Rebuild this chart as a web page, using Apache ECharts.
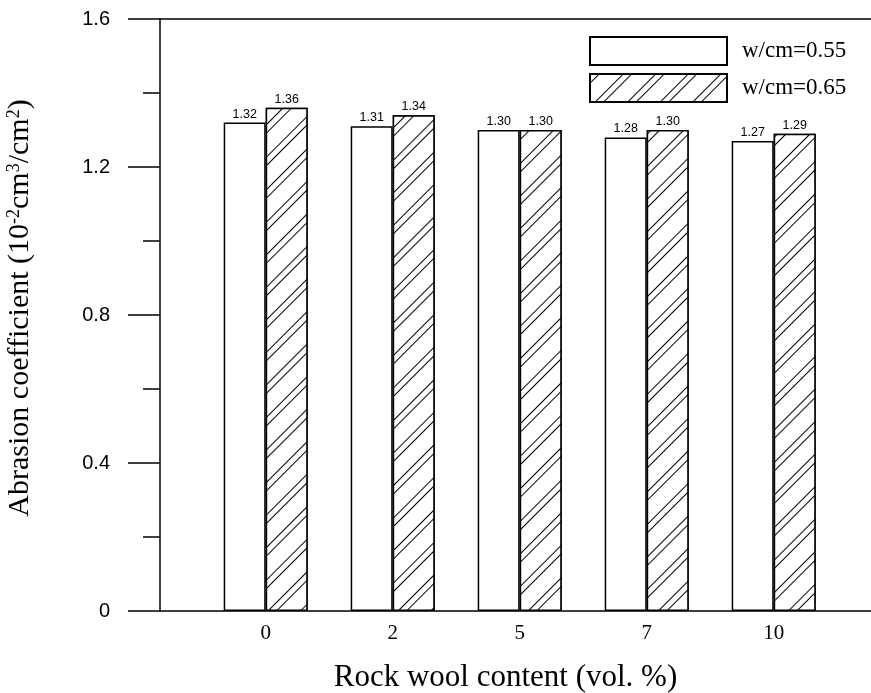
<!DOCTYPE html>
<html>
<head>
<meta charset="utf-8">
<script src="https://cdn.jsdelivr.net/npm/echarts@6/dist/echarts.min.js"></script>
<style>
  html, body { margin: 0; padding: 0; background: #fff; }
  #chart { width: 871px; height: 693px; }
</style>
</head>
<body>
<div id="chart"></div>
<script>
// Rock wool content (vol. %) groups
const categories = ['0', '2', '5', '7', '10'];
// Abrasion coefficient for the two water/cement ratios
const seriesNames = ['w/cm=0.55', 'w/cm=0.65'];
const values055 = [1.32, 1.31, 1.30, 1.28, 1.27];
const values065 = [1.36, 1.34, 1.30, 1.30, 1.29];
const yTicks = [0, 0.4, 0.8, 1.2, 1.6];

const chart = echarts.init(document.getElementById('chart'));

const serif = '"Liberation Serif", "Times New Roman", serif';
const sans = '"Liberation Sans", Arial, sans-serif';

// paired diagonal hatching for the second series
const hatch = {
  symbol: 'rect',
  symbolSize: 1,
  color: '#000',
  backgroundColor: '#fff',
  dashArrayX: [1, 0],
  dashArrayY: [1, 4.5, 1, 16],
  rotation: -Math.PI / 4
};

const labelStyle = {
  show: true,
  position: 'top',
  distance: 2,
  color: '#000',
  fontFamily: sans,
  fontSize: 12.5,
  formatter: p => p.value.toFixed(2)
};

chart.setOption({
  animation: false,
  backgroundColor: '#fff',
  grid: [
    { left: 160, right: 0, top: 19, bottom: 82, outerBoundsMode: 'none' },
    { left: 202.2, right: 33.8, top: 19, bottom: 82, outerBoundsMode: 'none' }
  ],
  legend: {
    orient: 'vertical',
    left: 584,
    top: 31,
    itemWidth: 137,
    itemHeight: 28,
    itemGap: 7,
    icon: 'rect',
    data: seriesNames,
    textStyle: { fontFamily: serif, fontSize: 23, color: '#000', padding: [0, 0, 0, 10] }
  },
  xAxis: [
    {
      gridIndex: 0, type: 'value', min: 0, max: 1, position: 'bottom',
      axisLine: { show: true, lineStyle: { color: '#000', width: 1.5 } },
      axisTick: { show: false }, axisLabel: { show: false }, splitLine: { show: false },
      name: 'Rock wool content (vol. %)',
      nameLocation: 'middle',
      nameGap: 51,
      nameTextStyle: { fontFamily: serif, fontSize: 31, color: '#000', padding: [0, 20, 0, 0] }
    },
    {
      gridIndex: 0, type: 'value', min: 0, max: 1, position: 'top',
      axisLine: { show: true, lineStyle: { color: '#000', width: 1.5 } },
      axisTick: { show: false }, axisLabel: { show: false }, splitLine: { show: false }
    },
    {
      gridIndex: 1, type: 'category', data: categories, position: 'bottom',
      axisLine: { show: false }, axisTick: { show: false },
      axisLabel: { margin: 12, fontFamily: serif, fontSize: 21, color: '#000' }
    }
  ],
  yAxis: [
    {
      gridIndex: 0, type: 'value', min: 0, max: 1.6, interval: 0.4,
      axisLine: { show: true, lineStyle: { color: '#000', width: 1.5 } },
      axisTick: { show: true, inside: false, length: 32, lineStyle: { color: '#000', width: 1.5 } },
      minorTick: { show: true, splitNumber: 2, length: 17, lineStyle: { color: '#000', width: 1.5 } },
      splitLine: { show: false },
      axisLabel: {
        margin: 50, fontFamily: sans, fontSize: 20, color: '#000',
        formatter: v => (yTicks.includes(+v.toFixed(1)) ? (v === 0 ? '0' : v.toFixed(1)) : '')
      },
      name: '{t|Abrasion coefficient (10}{s|-2}{t|cm}{s|3}{t|/cm}{s|2}{t|)}',
      nameLocation: 'middle',
      nameGap: 124,
      nameTextStyle: {
        padding: [0, 0, 0, 14],
        rich: {
          t: { fontFamily: serif, fontSize: 30, color: '#000' },
          s: { fontFamily: serif, fontSize: 18, color: '#000', padding: [0, 0, 13, 0] }
        }
      }
    },
    {
      gridIndex: 1, type: 'value', min: 0, max: 1.6, show: false
    }
  ],
  series: [
    {
      name: seriesNames[0], type: 'bar', xAxisIndex: 2, yAxisIndex: 1,
      data: values055, barWidth: 42, barGap: '0%',
      itemStyle: { color: '#fff', borderColor: '#000', borderWidth: 1.5 },
      label: labelStyle
    },
    {
      name: seriesNames[1], type: 'bar', xAxisIndex: 2, yAxisIndex: 1,
      data: values065, barWidth: 42, barGap: '0%',
      itemStyle: { color: '#fff', borderColor: '#000', borderWidth: 1.5, decal: hatch },
      label: labelStyle
    }
  ]
});
</script>
</body>
</html>
